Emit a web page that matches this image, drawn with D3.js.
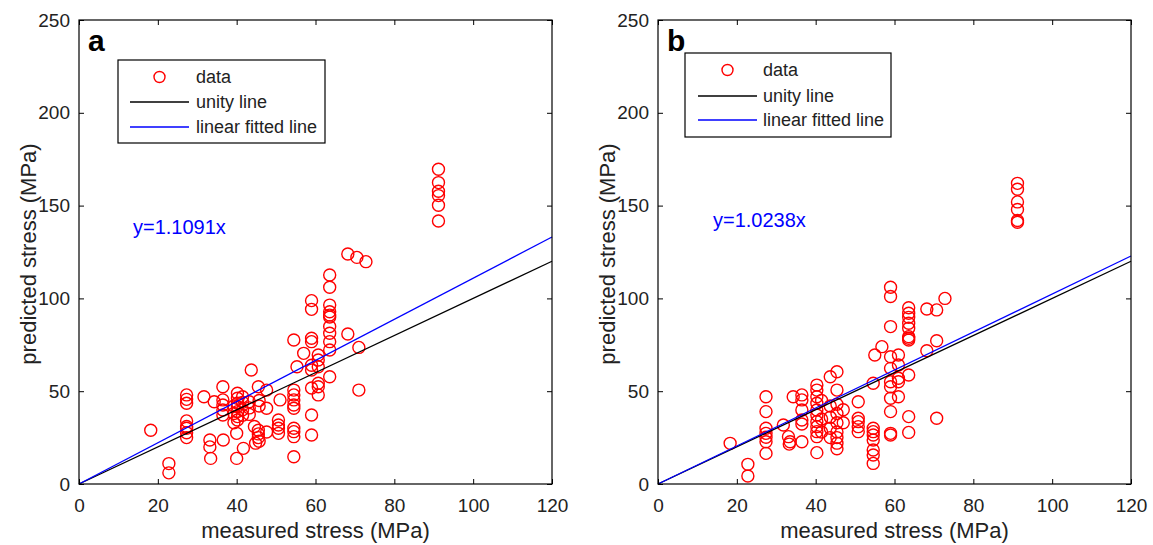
<!DOCTYPE html>
<html><head><meta charset="utf-8">
<script src="https://cdn.jsdelivr.net/npm/d3@7"></script>
<style>body{margin:0;background:#fff;} text{font-family:Arial,"Liberation Sans",sans-serif;}</style>
</head><body>
<svg id="chart" width="1153" height="545"></svg>
<script>
// ---------- data ----------
const xTicks = [0, 20, 40, 60, 80, 100, 120];
const yTicks = [0, 50, 100, 150, 200, 250];
const xLabel = "measured stress (MPa)";
const yLabel = "predicted stress (MPa)";
const legendLabels = ["data", "unity line", "linear fitted line"];
const panelLetters = ["a", "b"];
const slopes = [1.1091, 1.0238];
const fitLabels = ["y=1.1091x", "y=1.0238x"];

// [measured, predicted] pairs, panel a
const pointsA = [
[18.2,29],
[22.8,11],[22.8,6],
[27.3,48],[27.3,45.6],[27.3,43.5],[27.3,34],[27.3,31],[27.3,30],[27.3,27.6],[27.3,25],
[31.7,47],
[33.2,23.7],[33.2,20],[33.4,13.8],[34.3,44.3],
[36.5,52.4],[36.5,45.3],[36.5,42.6],[36.5,39.9],[36.5,37.2],[36.6,23.7],
[40.2,48.9],[40.2,46.2],[40.2,43.5],[40.2,41.7],[40.2,39],[40.2,36.3],[40.2,34.5],[40,27.3],[40,13.8],[41.7,19.2],
[39.3,42],[39.3,38],[39.3,33],
[41.5,47],[41.5,44],[41.5,40],[41.5,37],
[43.7,61.4],[43.2,44.3],[43.2,41],[43.2,37.5],
[45.5,52.4],[45.7,45],[45.7,42],
[44.5,31],[45.5,29],[45.5,27],[45.5,25],[45.7,23],[44.8,22],
[47.6,50.6],[47.6,40.8],[47.6,28],
[50.6,34.5],[50.6,31.8],[50.6,30],[50.6,27.3],[51,45.3],
[54.5,77.6],[54.5,50.6],[54.5,48],[54.5,45.3],[54.5,42.6],[54.5,40.8],[54.5,30],[54.5,28.2],[54.5,25.5],[54.5,14.7],
[55.3,63.2],[57,70.4],
[59,98.8],[59,94.1],[59,78.5],[59,76.7],[59,64],[59,61.4],[59,51.7],[59,37.2],[59,26.4],
[60.7,69.5],[60.7,66.8],[60.7,63.2],[60.7,54.3],[60.7,52.4],[60.7,48],
[63.6,112.6],[63.6,106],[63.6,96.4],[63.6,92.8],[63.6,91],[63.6,90],[63.6,84.8],[63.6,81.2],[63.6,76.7],[63.6,72.2],[63.6,57.8],
[68.2,123.9],[68.2,80.8],
[70.5,122.1],[71,73.6],[71,50.6],
[72.8,119.8],
[91.2,169.6],[91.2,162.4],[91.2,157.7],[91.2,155.4],[91.2,150.2],[91.2,141.7]
];

// [measured, predicted] pairs, panel b
const pointsB = [
[18.3,21.9],
[22.8,10.6],[22.8,4.3],
[27.4,47],[27.4,39],[27.4,30],[27.4,27.3],[27.4,25.2],[27.4,22.8],[27.4,16.5],
[31.8,31.8],
[33.1,25.5],[33.5,22.8],[33.3,21.5],[34.3,47],
[36.5,48],[36.5,45.3],[36.5,39.9],[36.5,34.5],[36.5,32.3],[36.5,22.8],
[40.3,53.3],[40.3,50.6],[40.3,47],[40.3,43.5],[40.3,39.9],[40.3,37.2],[40.3,33.6],[40.3,30.9],[40.3,28.2],[40.3,25.5],[40.3,16.9],
[41.5,45],[41.5,35],[41.5,28],
[43.7,57.8],[43.7,42],[43.7,36],[43.7,30],[43.7,25],
[45.4,60.5],[45.4,50.6],[45.4,43],[45.4,38],[45.4,33],[45.4,28],[45.4,25],[45.4,22],[45.4,19],
[47,40],[47,33],
[50.8,44.3],[50.8,35.4],[50.8,33.6],[50.8,30.9],[50.8,28.2],
[54.6,54.3],[54.6,30],[54.6,28.2],[54.6,26.4],[54.6,23.7],[54.6,18.3],[54.6,15.6],[54.6,11.1],
[55,69.5],[56.8,74],
[59,106],[59,101],[59,84.8],[59,68.6],[59,62.3],[59,55.1],[59,52.4],[59,46.2],[59,39],[59,27.3],[59,26.4],
[61,69.5],[61,64.1],[61,57],[61,55.1],[61,47],
[63.6,95],[63.6,92],[63.6,89.8],[63.6,86.6],[63.6,83.9],[63.6,79.4],[63.6,78.5],[63.6,77.6],[63.6,58.7],[63.6,36.3],[63.6,27.8],
[68.2,94.3],[68.2,71.8],
[70.7,93.8],[70.7,77.2],[70.7,35.4],
[72.8,100],
[91.2,162],[91.2,158.8],[91.2,152],[91.2,147.9],[91.2,142],[91.2,141]
];

// ---------- drawing ----------
const svg = d3.select("#chart");
const panels = [
  {pts: pointsA, left: 79, right: 552, legend: {x: 118, y: 60, w: 207, h: 83, rows: [77, 102, 127], sym: [130, 189], tx: 196}, letterX: 88, fitPos: [133, 234]},
  {pts: pointsB, left: 658, right: 1131, legend: {x: 685, y: 53, w: 206, h: 84, rows: [70, 96, 120], sym: [698, 757], tx: 763}, letterX: 667, fitPos: [713, 227]}
];
const plotTop = 20, plotBottom = 484;

panels.forEach((p, i) => {
  const x = d3.scaleLinear().domain([0, 120]).range([p.left, p.right]);
  const y = d3.scaleLinear().domain([0, 250]).range([plotBottom, plotTop]);
  const g = svg.append("g");

  // points
  g.append("g").selectAll("circle").data(p.pts).join("circle")
    .attr("cx", d => x(d[0])).attr("cy", d => y(d[1])).attr("r", 6)
    .attr("fill", "none").attr("stroke", "#ff0000").attr("stroke-width", 1.4);

  // unity line and fitted line
  const line = d3.line().x(d => x(d[0])).y(d => y(d[1]));
  g.append("path").datum([[0, 0], [120, 120]]).attr("d", line)
    .attr("stroke", "#000").attr("stroke-width", 1.3).attr("fill", "none");
  g.append("path").datum([[0, 0], [120, 120 * slopes[i]]]).attr("d", line)
    .attr("stroke", "#0000ff").attr("stroke-width", 1.3).attr("fill", "none");

  // axes with inward ticks
  const axB = g.append("g").attr("transform", `translate(0,${plotBottom})`)
    .call(d3.axisBottom(x).tickValues(xTicks).tickSize(-5).tickPadding(15).tickFormat(d3.format("d")));
  const axT = g.append("g").attr("transform", `translate(0,${plotTop})`)
    .call(d3.axisTop(x).tickValues(xTicks).tickSize(-5).tickFormat(""));
  const axL = g.append("g").attr("transform", `translate(${p.left},0)`)
    .call(d3.axisLeft(y).tickValues(yTicks).tickSize(-5).tickPadding(9).tickFormat(d3.format("d")));
  const axR = g.append("g").attr("transform", `translate(${p.right},0)`)
    .call(d3.axisRight(y).tickValues(yTicks).tickSize(-5).tickFormat(""));
  [axB, axT, axL, axR].forEach(a => {
    a.select(".domain").remove();
    a.selectAll("line").attr("stroke", "#000");
    a.selectAll("text").attr("font-size", 19).attr("fill", "#222")
      .attr("font-family", "Arial, 'Liberation Sans', sans-serif");
  });
  axB.selectAll("text").attr("dy", "0.71em");

  g.append("rect").attr("x", p.left).attr("y", plotTop)
    .attr("width", p.right - p.left).attr("height", plotBottom - plotTop)
    .attr("fill", "none").attr("stroke", "#000").attr("stroke-width", 1.2);

  // axis titles
  g.append("text").attr("x", (p.left + p.right) / 2).attr("y", 538)
    .attr("text-anchor", "middle").attr("font-size", 22).attr("fill", "#222").text(xLabel);
  g.append("text").attr("transform", `translate(${p.left - 43},${(plotTop + plotBottom) / 2 + 2}) rotate(-90)`)
    .attr("text-anchor", "middle").attr("font-size", 22).attr("fill", "#222").text(yLabel);

  // panel letter
  g.append("text").attr("x", p.letterX).attr("y", 51).attr("font-size", 30)
    .attr("font-weight", "bold").attr("fill", "#000").text(panelLetters[i]);

  // fit label
  g.append("text").attr("x", p.fitPos[0]).attr("y", p.fitPos[1]).attr("font-size", 20)
    .attr("fill", "#0000ff").text(fitLabels[i]);

  // legend
  const L = p.legend;
  const lg = g.append("g");
  lg.append("rect").attr("x", L.x).attr("y", L.y).attr("width", L.w).attr("height", L.h)
    .attr("fill", "#fff").attr("stroke", "#000").attr("stroke-width", 1.2);
  lg.append("circle").attr("cx", (L.sym[0] + L.sym[1]) / 2).attr("cy", L.rows[0]).attr("r", 5.5)
    .attr("fill", "none").attr("stroke", "#ff0000").attr("stroke-width", 1.4);
  lg.append("line").attr("x1", L.sym[0]).attr("x2", L.sym[1]).attr("y1", L.rows[1]).attr("y2", L.rows[1])
    .attr("stroke", "#000").attr("stroke-width", 1.3);
  lg.append("line").attr("x1", L.sym[0]).attr("x2", L.sym[1]).attr("y1", L.rows[2]).attr("y2", L.rows[2])
    .attr("stroke", "#0000ff").attr("stroke-width", 1.3);
  legendLabels.forEach((t, k) => {
    lg.append("text").attr("x", L.tx).attr("y", L.rows[k]).attr("dy", "0.35em")
      .attr("font-size", 18).attr("fill", "#222").text(t);
  });
});
</script>
</body></html>
